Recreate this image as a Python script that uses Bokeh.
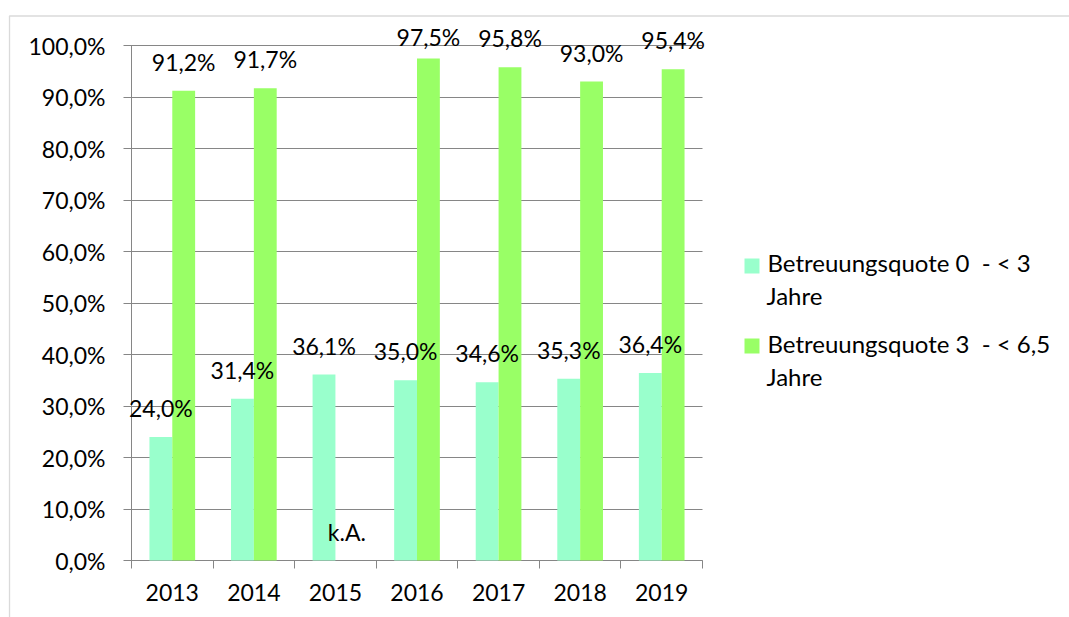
from bokeh.plotting import figure
from bokeh.models import (Range1d, FixedTicker, CustomJSTickFormatter, ColumnDataSource,
                          BoxAnnotation, Label)
from bokeh.core.properties import value
from bokeh.embed import file_html
from bokeh.resources import INLINE

years = ["2013", "2014", "2015", "2016", "2017", "2018", "2019"]
quote_0_3 = [24.0, 31.4, 36.1, 35.0, 34.6, 35.3, 36.4]
quote_3_65 = [91.2, 91.7, None, 97.5, 95.8, 93.0, 95.4]
series_names = ["Betreuungsquote 0  - < 3", "Betreuungsquote 3  - < 6,5"]
legend_second_line = "Jahre"
missing_label = "k.A."
y_ticks = [0, 10, 20, 30, 40, 50, 60, 70, 80, 90, 100]

FONT = "Lato"
FS = "23px"
FS_LEG = "24px"
C1 = "#99FFCC"
C2 = "#99FF66"
GRAY = "#868686"

W, H = 1069, 617
# pixel layout of the plot area inside the canvas
PL, PR, PT, PB = 131, 702, 45, 560
n = len(years)
kx = (PR - PL) / n
ky = (PB - PT) / 100.0
x_start, x_end = -PL / kx, (W - PL) / kx
y_start, y_end = -(H - PB) / ky, PB / ky

p = figure(width=W, height=H, output_backend="svg", toolbar_location=None,
           x_range=Range1d(x_start, x_end), y_range=Range1d(y_start, y_end),
           min_border=0)
p.outline_line_color = None
p.background_fill_color = "white"
p.border_fill_color = "white"
p.xgrid.grid_line_color = None
p.ygrid.grid_line_color = None

bw = 0.28
idx = list(range(n))
x1 = [i + 0.5 - bw / 2 for i in idx]
x2 = [i + 0.5 + bw / 2 for i in idx]
v2 = [v if v is not None else 0 for v in quote_3_65]

def fmt(v):
    return f"{v:.1f}".replace(".", ",") + "%"

def label_offset(v):
    # label sits 20px above the bar, but is kept inside the plot area (like the original)
    bar_top = PB - v * ky
    desired = max(bar_top - 20, PT)
    return desired - bar_top - 9

src1 = ColumnDataSource(dict(x=x1, top=quote_0_3, lab=[fmt(v) for v in quote_0_3],
                             off=[label_offset(v) for v in quote_0_3]))
src2 = ColumnDataSource(dict(x=x2, top=v2,
                             lab=[fmt(v) if v is not None else missing_label for v in quote_3_65],
                             off=[label_offset(v) for v in v2]))

p.vbar(x="x", top="top", width=bw, bottom=0, source=src1, fill_color=C1, line_color=None)
p.vbar(x="x", top="top", width=bw, bottom=0, source=src2, fill_color=C2, line_color=None)

for s in (src1, src2):
    p.text(x="x", y="top", text="lab", source=s, text_align="center",
           text_baseline="alphabetic", y_offset="off", text_font=value(FONT),
           text_font_size=FS, text_color="black")

# x axis (category boundaries as ticks)
xa = p.xaxis[0]
xa.fixed_location = 0
xa.bounds = (0, n)
xa.ticker = FixedTicker(ticks=[i + 0.5 for i in idx], minor_ticks=list(range(n + 1)))
xa.formatter = CustomJSTickFormatter(args=dict(labels=years),
                                     code="return labels[Math.round(tick - 0.5)];")
xa.major_tick_out = 0
xa.major_tick_in = 0
xa.minor_tick_out = 8
xa.minor_tick_in = 0
xa.minor_tick_line_color = GRAY
xa.axis_line_color = GRAY
xa.major_label_text_font = FONT
xa.major_label_text_font_size = FS
xa.major_label_text_color = "black"
xa.major_label_standoff = 15
xa.level = "underlay"

# y axis; its inward ticks serve as the horizontal grid lines (behind the bars)
ya = p.yaxis[0]
ya.fixed_location = 0
ya.bounds = (0, 100)
ya.ticker = FixedTicker(ticks=y_ticks, minor_ticks=[])
ya.formatter = CustomJSTickFormatter(code="return tick.toFixed(1).replace('.', ',') + '%';")
ya.major_tick_out = 8
ya.major_tick_in = PR - PL
ya.minor_tick_line_color = None
ya.major_tick_line_color = GRAY
ya.axis_line_color = GRAY
ya.major_label_text_font = FONT
ya.major_label_text_font_size = FS
ya.major_label_text_color = "black"
ya.major_label_standoff = 18
ya.level = "underlay"

# chart border (top and left edges visible)
p.add_layout(BoxAnnotation(left=9, right=W + 50, top=H - 15.5, bottom=-50,
                           left_units="screen", right_units="screen",
                           top_units="screen", bottom_units="screen",
                           fill_alpha=0, line_color=GRAY, line_width=1.3))

# legend
for k, (name, col) in enumerate(zip(series_names, [C1, C2])):
    top = 258 + k * 80
    p.add_layout(BoxAnnotation(left=744, right=759, top=H - top, bottom=H - (top + 15),
                               left_units="screen", right_units="screen",
                               top_units="screen", bottom_units="screen",
                               fill_color=col, fill_alpha=1, line_color=None))
    base = 262 + k * 81
    shown = name.replace("  ", " \u00a0")
    p.add_layout(Label(x=767, y=H - base, x_units="screen", y_units="screen",
                       text=shown, text_font=FONT, text_font_size=FS_LEG,
                       text_baseline="alphabetic", text_align="left", text_color="black"))
    p.add_layout(Label(x=766, y=H - (base + 33), x_units="screen", y_units="screen",
                       text=legend_second_line, text_font=FONT, text_font_size=FS_LEG,
                       text_baseline="alphabetic", text_align="left", text_color="black"))

open("out.html", "w").write(file_html(p, INLINE))
